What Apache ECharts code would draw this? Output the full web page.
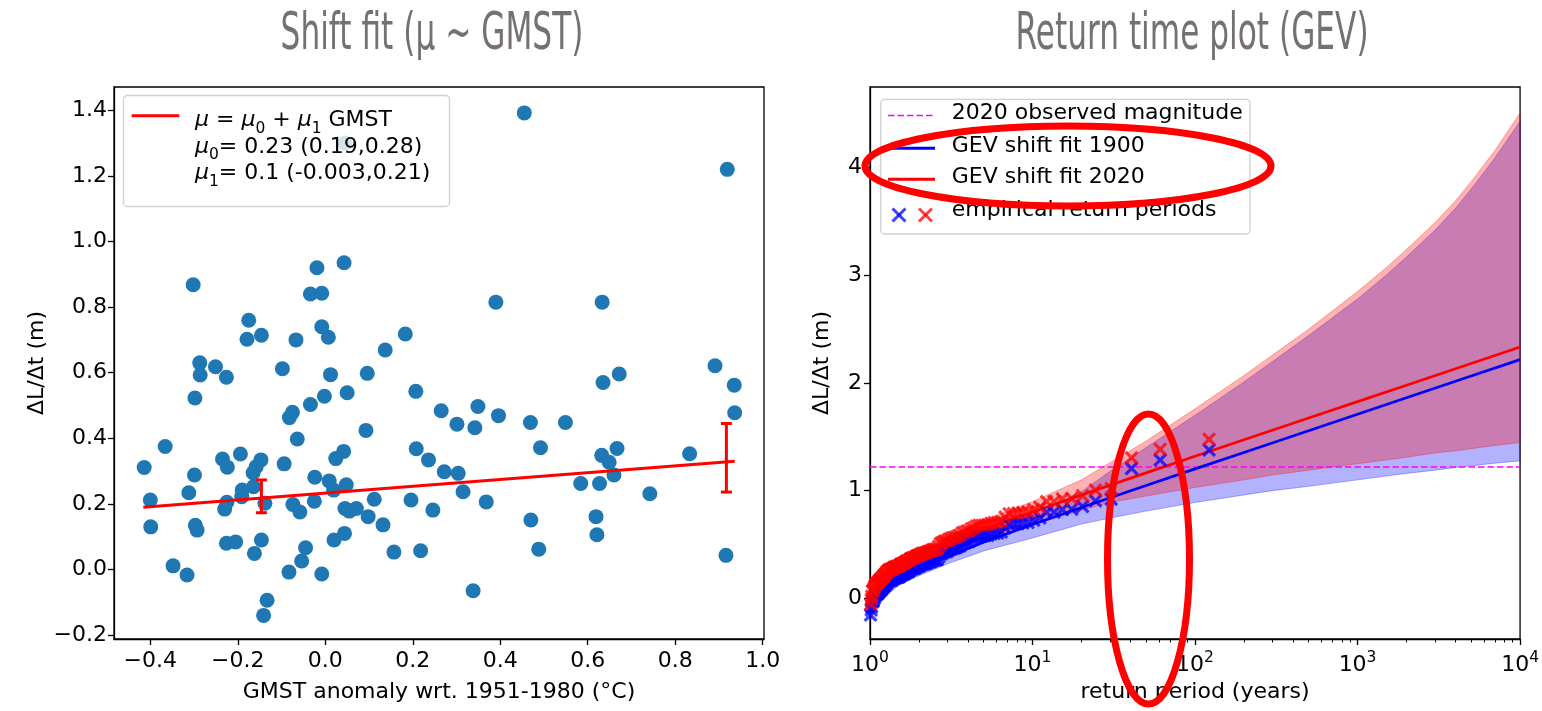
<!DOCTYPE html>
<html>
<head>
<meta charset="utf-8">
<script src="https://cdn.jsdelivr.net/npm/echarts@6/dist/echarts.min.js"></script>
<style>
html, body { margin: 0; padding: 0; background: #fff; }
#chart { width: 1542px; height: 711px; }
</style>
</head>
<body>
<div id="chart"></div>
<script>
// ---------- left panel: yearly ΔL/Δt against GMST anomaly ----------
const gmst = [0.045,-0.302,-0.019,0.043,-0.034,-0.008,-0.175,-0.179,-0.146,-0.067,-0.008,0.007,0.137,0.183,
  -0.287,-0.251,-0.286,-0.226,-0.098,0.012,0.096,-0.298,-0.034,-0.002,0.050,0.207,-0.075,-0.082,0.265,0.301,
  -0.064,0.093,-0.366,-0.414,-0.299,-0.235,-0.224,-0.194,-0.147,-0.158,-0.165,-0.094,0.042,0.024,0.208,0.236,
  0.272,0.304,0.315,-0.312,-0.400,-0.190,-0.191,-0.164,-0.225,-0.230,-0.138,-0.074,-0.058,-0.025,-0.024,0.009,
  0.019,0.048,0.045,0.055,0.071,0.112,0.098,0.132,0.196,0.246,-0.399,-0.297,-0.293,-0.226,-0.205,-0.146,-0.162,
  -0.045,-0.054,0.020,0.044,0.157,0.218,-0.348,-0.316,-0.083,-0.008,-0.133,-0.141,
  0.455,0.919,0.390,0.633,0.891,0.935,0.936,0.635,0.672,0.349,0.342,0.396,0.469,0.549,0.492,0.368,0.470,0.488,
  0.338,0.584,0.627,0.632,0.649,0.667,0.660,0.619,0.621,0.742,0.833,0.916];
const dLdt = [1.30,0.868,0.920,0.935,0.840,0.842,0.760,0.702,0.714,0.700,0.740,0.708,0.669,0.718,
  0.630,0.618,0.593,0.586,0.612,0.594,0.598,0.523,0.503,0.528,0.539,0.543,0.479,0.463,0.484,0.443,
  0.398,0.424,0.375,0.311,0.288,0.337,0.312,0.352,0.334,0.313,0.295,0.322,0.360,0.338,0.368,0.334,
  0.298,0.293,0.237,0.234,0.212,0.242,0.222,0.252,0.205,0.184,0.202,0.198,0.175,0.208,0.281,0.270,
  0.242,0.258,0.186,0.178,0.186,0.214,0.161,0.136,0.212,0.181,0.130,0.135,0.120,0.080,0.084,0.090,0.049,
  0.066,0.026,0.090,0.110,0.053,0.057,0.011,-0.017,-0.008,-0.014,-0.094,-0.140,
  1.392,1.220,0.815,0.815,0.621,0.562,0.478,0.570,0.596,0.497,0.432,0.469,0.448,0.448,0.371,0.206,0.151,0.062,
  -0.065,0.262,0.262,0.348,0.327,0.369,0.288,0.161,0.106,0.231,0.353,0.043];

// fitted location μ = μ0 + μ1·GMST over the observed GMST range
const regX = [-0.416, 0.936];
const regY = [0.19, 0.33];
// confidence intervals of μ at the 1900 and 2020 GMST
const errX = [-0.146, 0.917];
const errLo = [0.173, 0.236];
const errHi = [0.273, 0.445];

const leftXTicks = [-0.4, -0.2, 0, 0.2, 0.4, 0.6, 0.8, 1.0];
const leftYTicks = [-0.2, 0, 0.2, 0.4, 0.6, 0.8, 1.0, 1.2, 1.4];

// ---------- right panel: GEV return levels ----------
const fitT = [1.01, 1.05, 1.1, 1.25, 1.5, 2, 3, 5, 10, 20, 50, 100, 200, 500, 1000, 2000, 5000, 10000];
const fit1900 = [-0.146, -0.055, -0.002, 0.085, 0.169, 0.27, 0.389, 0.52, 0.685, 0.843, 1.048, 1.202, 1.355, 1.557, 1.71, 1.862, 2.064, 2.217];
const fit2020 = [-0.029, 0.062, 0.115, 0.202, 0.286, 0.387, 0.506, 0.637, 0.802, 0.96, 1.165, 1.319, 1.472, 1.674, 1.827, 1.979, 2.181, 2.334];

// confidence bands of the return levels
const bandT   = [1.01, 1.1, 1.5, 2, 3, 5, 10, 20, 30, 50, 100, 200, 300, 500, 1000, 1500, 2000, 3000, 4000, 5000, 7000, 10000];
const low1900 = [-0.20, -0.05, 0.12, 0.21, 0.32, 0.44, 0.56, 0.69, 0.745, 0.81, 0.89, 0.96, 1.00, 1.04, 1.10, 1.135, 1.16, 1.19, 1.215, 1.23, 1.255, 1.276];
const up1900  = [-0.11, 0.04, 0.21, 0.32, 0.44, 0.59, 0.78, 0.99, 1.18, 1.40, 1.70, 2.01, 2.20, 2.44, 2.78, 3.00, 3.17, 3.42, 3.62, 3.80, 4.09, 4.43];
const low2020 = [-0.09, 0.06, 0.23, 0.32, 0.43, 0.55, 0.68, 0.82, 0.89, 0.95, 1.03, 1.10, 1.145, 1.19, 1.25, 1.285, 1.31, 1.35, 1.37, 1.39, 1.42, 1.446];
const up2020  = [0.00, 0.16, 0.33, 0.44, 0.57, 0.72, 0.90, 1.10, 1.26, 1.46, 1.76, 2.07, 2.26, 2.50, 2.85, 3.07, 3.24, 3.49, 3.69, 3.87, 4.16, 4.507];

// empirical return periods of the ranked record
const empT = [122, 61, 40.67, 30.5, 24.4, 20.33, 17.43, 15.25, 13.56, 12.2,
  11.09, 10.17, 9.38, 8.71, 8.13, 7.63, 7.18, 6.78, 6.42, 6.1,
  5.81, 5.55, 5.3, 5.08, 4.88, 4.69, 4.52, 4.36, 4.21, 4.07,
  3.94, 3.81, 3.7, 3.59, 3.49, 3.39, 3.3, 3.21, 3.13, 3.05,
  2.98, 2.9, 2.84, 2.77, 2.71, 2.65, 2.6, 2.54, 2.49, 2.44,
  2.39, 2.35, 2.3, 2.26, 2.22, 2.18, 2.14, 2.1, 2.07, 2.03,
  2, 1.97, 1.94, 1.91, 1.88, 1.85, 1.82, 1.79, 1.77, 1.74,
  1.72, 1.69, 1.67, 1.65, 1.63, 1.61, 1.58, 1.56, 1.54, 1.53,
  1.51, 1.49, 1.47, 1.45, 1.44, 1.42, 1.4, 1.39, 1.37, 1.36,
  1.34, 1.33, 1.31, 1.3, 1.28, 1.27, 1.26, 1.24, 1.23, 1.22,
  1.21, 1.2, 1.18, 1.17, 1.16, 1.15, 1.14, 1.13, 1.12, 1.11,
  1.1, 1.09, 1.08, 1.07, 1.06, 1.05, 1.043, 1.034, 1.025, 1.017,
  1.008];
const emp1900 = [1.377, 1.285, 1.205, 0.920, 0.905, 0.853, 0.827, 0.825, 0.800, 0.800,
  0.745, 0.725, 0.703, 0.699, 0.693, 0.687, 0.685, 0.654, 0.615, 0.606,
  0.603, 0.597, 0.583, 0.581, 0.579, 0.578, 0.571, 0.555, 0.547, 0.528,
  0.524, 0.513, 0.508, 0.488, 0.482, 0.469, 0.464, 0.463, 0.454, 0.448,
  0.433, 0.433, 0.428, 0.417, 0.409, 0.383, 0.360, 0.356, 0.354, 0.353,
  0.345, 0.338, 0.337, 0.333, 0.323, 0.322, 0.319, 0.319, 0.312, 0.307,
  0.298, 0.297, 0.296, 0.283, 0.280, 0.278, 0.273, 0.273, 0.266, 0.255,
  0.247, 0.247, 0.243, 0.237, 0.227, 0.227, 0.222, 0.219, 0.216, 0.207,
  0.199, 0.197, 0.197, 0.193, 0.191, 0.190, 0.187, 0.183, 0.171, 0.171,
  0.169, 0.166, 0.163, 0.160, 0.146, 0.146, 0.136, 0.121, 0.120, 0.115,
  0.105, 0.095, 0.091, 0.075, 0.075, 0.069, 0.065, 0.051, 0.047, 0.042,
  0.038, 0.034, 0.028, 0.011, -0.004, -0.023, -0.029, -0.032, -0.080, -0.109,
  -0.155];
const emp2020 = [1.477, 1.385, 1.305, 1.020, 1.005, 0.953, 0.927, 0.925, 0.900, 0.900,
  0.845, 0.825, 0.803, 0.799, 0.793, 0.787, 0.785, 0.754, 0.715, 0.706,
  0.703, 0.697, 0.683, 0.681, 0.679, 0.678, 0.671, 0.655, 0.647, 0.628,
  0.624, 0.613, 0.608, 0.588, 0.582, 0.569, 0.564, 0.563, 0.554, 0.548,
  0.533, 0.533, 0.528, 0.517, 0.509, 0.483, 0.460, 0.456, 0.454, 0.453,
  0.445, 0.438, 0.437, 0.433, 0.423, 0.422, 0.419, 0.419, 0.412, 0.407,
  0.398, 0.397, 0.396, 0.383, 0.380, 0.378, 0.373, 0.373, 0.366, 0.355,
  0.347, 0.347, 0.343, 0.337, 0.327, 0.327, 0.322, 0.319, 0.316, 0.307,
  0.299, 0.297, 0.297, 0.293, 0.291, 0.290, 0.287, 0.283, 0.271, 0.271,
  0.269, 0.266, 0.263, 0.260, 0.246, 0.246, 0.236, 0.221, 0.220, 0.215,
  0.205, 0.195, 0.191, 0.175, 0.175, 0.169, 0.165, 0.151, 0.147, 0.142,
  0.138, 0.134, 0.128, 0.111, 0.096, 0.077, 0.071, 0.068, 0.020, -0.009,
  -0.055];

// 2020 observed magnitude
const obsT = [1, 10000];
const obsVal = [1.22, 1.22];

const rightXTicks = [1, 10, 100, 1000, 10000];
const rightMinorTicks = [2, 3, 4, 5, 6, 7, 8, 9, 20, 30, 40, 50, 60, 70, 80, 90,
  200, 300, 400, 500, 600, 700, 800, 900, 2000, 3000, 4000, 5000, 6000, 7000, 8000, 9000];
const rightYTicks = [0, 1, 2, 3, 4];

// ---------- drawing ----------
const FONT = 'DejaVu Sans';
const FS = 22;
const zip = (a, b) => a.map((v, i) => [v, b[i]]);
const crossPath = 'path://M0,1.6L1.6,0L5,3.4L8.4,0L10,1.6L6.6,5L10,8.4L8.4,10L5,6.6L1.6,10L0,8.4L3.4,5Z';

const axisLine = { show: true, onZero: false, lineStyle: { color: '#000', width: 1.3 } };
const tickStyle = { color: '#000', width: 1.3 };
const labelBase = { fontFamily: FONT, fontSize: FS, color: '#000' };
const nameStyle = { fontFamily: FONT, fontSize: FS, color: '#000' };

function fmtDec(v) {
  return (v < 0 ? '\u2212' : '') + Math.abs(v).toFixed(1);
}

function bandSeries(lo, hi, color, z) {
  return {
    type: 'custom', xAxisIndex: 1, yAxisIndex: 1, z: z, silent: true,
    data: [[bandT[0], lo[0]]],
    renderItem(params, api) {
      const pts = [];
      for (let i = 0; i < bandT.length; i++) pts.push(api.coord([bandT[i], hi[i]]));
      for (let i = bandT.length - 1; i >= 0; i--) pts.push(api.coord([bandT[i], lo[i]]));
      return { type: 'polygon', shape: { points: pts }, style: { fill: color, stroke: color, lineWidth: 1 } };
    }
  };
}

const chart = echarts.init(document.getElementById('chart'), null, { renderer: 'canvas' });

// legend text: n = upright, i = italic μ, s = subscript
const legendRich = {
  n: { fontFamily: FONT, fontSize: FS, fill: '#000', verticalAlign: 'bottom', padding: [0, 0, 5, 0] },
  i: { fontFamily: FONT, fontSize: FS, fontStyle: 'italic', fill: '#000', verticalAlign: 'bottom', padding: [0, 0, 5, 0] },
  s: { fontFamily: FONT, fontSize: 15.5, fill: '#000', verticalAlign: 'bottom' }
};
const legendText = (x, y, text) => ({
  type: 'text', x: x, y: y, z: 101,
  style: { text: text, fontFamily: FONT, fontSize: FS, fill: '#000', verticalAlign: 'middle', align: 'left', rich: legendRich }
});

const crossLines = (cx, cy, color) => {
  const h = 6.5;
  const st = { stroke: color, lineWidth: 3 };
  return [
    { type: 'line', z: 101, shape: { x1: cx - h, y1: cy - h, x2: cx + h, y2: cy + h }, style: st },
    { type: 'line', z: 101, shape: { x1: cx - h, y1: cy + h, x2: cx + h, y2: cy - h }, style: st }
  ];
};

const option = {
  backgroundColor: '#fff',
  animation: false,
  grid: [
    { left: 114, top: 87, width: 650, height: 552, show: true, borderColor: '#000', borderWidth: 1.3, backgroundColor: 'transparent' },
    { left: 870, top: 87, width: 651, height: 552, show: true, borderColor: '#000', borderWidth: 1.3, backgroundColor: 'transparent' }
  ],
  xAxis: [
    {
      gridIndex: 0, type: 'value', min: -0.483, max: 1.003,
      axisLine: axisLine,
      axisTick: { show: true, length: 6, lineStyle: tickStyle, customValues: leftXTicks },
      axisLabel: Object.assign({ margin: 11, customValues: leftXTicks, formatter: fmtDec }, labelBase),
      splitLine: { show: false },
      name: 'GMST anomaly wrt. 1951-1980 (°C)', nameLocation: 'middle', nameGap: 42, nameTextStyle: nameStyle
    },
    {
      gridIndex: 1, type: 'log', logBase: 10, min: 1, max: 10000,
      axisLine: axisLine,
      axisTick: { show: true, length: 6, lineStyle: tickStyle, customValues: rightXTicks },
      axisLabel: Object.assign({
        margin: 11, customValues: rightXTicks,
        formatter: v => '{b|10}{s|' + Math.round(Math.log10(v)) + '}',
        rich: {
          b: { fontFamily: FONT, fontSize: FS, color: '#000', verticalAlign: 'bottom' },
          s: { fontFamily: FONT, fontSize: 15.5, color: '#000', verticalAlign: 'bottom', padding: [0, 0, 10, 0] }
        }
      }, labelBase),
      splitLine: { show: false },
      minorTick: { show: false },
      name: 'return period (years)', nameLocation: 'middle', nameGap: 42, nameTextStyle: nameStyle
    },
    {
      gridIndex: 1, type: 'log', logBase: 10, min: 1, max: 10000, position: 'bottom',
      axisLine: { show: false, onZero: false },
      axisTick: { show: true, length: 3.5, lineStyle: { color: '#000', width: 1 }, customValues: rightMinorTicks },
      axisLabel: { show: false },
      splitLine: { show: false }
    }
  ],
  yAxis: [
    {
      gridIndex: 0, type: 'value', min: -0.212, max: 1.471,
      axisLine: axisLine,
      axisTick: { show: true, length: 6, lineStyle: tickStyle, customValues: leftYTicks },
      axisLabel: Object.assign({ margin: 7, customValues: leftYTicks, formatter: fmtDec }, labelBase),
      splitLine: { show: false },
      name: 'ΔL/Δt (m)', nameLocation: 'middle', nameGap: 66, nameRotate: 90, nameTextStyle: nameStyle
    },
    {
      gridIndex: 1, type: 'value', min: -0.378, max: 4.749,
      axisLine: axisLine,
      axisTick: { show: true, length: 6, lineStyle: tickStyle, customValues: rightYTicks },
      axisLabel: Object.assign({ margin: 8, customValues: rightYTicks, formatter: v => String(v) }, labelBase),
      splitLine: { show: false },
      name: 'ΔL/Δt (m)', nameLocation: 'middle', nameGap: 37, nameRotate: 90, nameTextStyle: nameStyle
    }
  ],
  series: [
    // left panel
    {
      type: 'scatter', xAxisIndex: 0, yAxisIndex: 0, z: 2,
      data: zip(gmst, dLdt), symbol: 'circle', symbolSize: 15,
      itemStyle: { color: '#1f77b4', opacity: 1 }
    },
    {
      type: 'line', xAxisIndex: 0, yAxisIndex: 0, z: 3,
      data: zip(regX, regY), symbol: 'none',
      lineStyle: { color: '#ff0000', width: 3 }
    },
    {
      type: 'custom', xAxisIndex: 0, yAxisIndex: 0, z: 4,
      data: errX.map((x, i) => [x, errLo[i], errHi[i]]),
      encode: { x: 0, y: [1, 2] },
      renderItem(params, api) {
        const x = api.value(0);
        const lo = api.coord([x, api.value(1)]);
        const hi = api.coord([x, api.value(2)]);
        const cap = 5.5;
        const st = { stroke: '#ff0000', lineWidth: 3 };
        return {
          type: 'group', children: [
            { type: 'line', shape: { x1: lo[0], y1: lo[1], x2: hi[0], y2: hi[1] }, style: st },
            { type: 'line', shape: { x1: lo[0] - cap, y1: lo[1], x2: lo[0] + cap, y2: lo[1] }, style: st },
            { type: 'line', shape: { x1: hi[0] - cap, y1: hi[1], x2: hi[0] + cap, y2: hi[1] }, style: st }
          ]
        };
      }
    },
    // right panel: confidence bands
    bandSeries(low1900, up1900, 'rgba(0,0,255,0.3)', 1),
    bandSeries(low2020, up2020, 'rgba(255,0,0,0.3)', 1),
    {
      type: 'line', xAxisIndex: 1, yAxisIndex: 1, z: 2,
      data: zip(obsT, obsVal), symbol: 'none',
      lineStyle: { color: '#ff00ff', width: 1.5, type: [6.5, 3] }
    },
    {
      type: 'line', xAxisIndex: 1, yAxisIndex: 1, z: 3,
      data: zip(fitT, fit1900), symbol: 'none',
      lineStyle: { color: '#0000ff', width: 2.7 }
    },
    {
      type: 'line', xAxisIndex: 1, yAxisIndex: 1, z: 3,
      data: zip(fitT, fit2020), symbol: 'none',
      lineStyle: { color: '#ff0000', width: 2.7 }
    },
    {
      type: 'scatter', xAxisIndex: 1, yAxisIndex: 1, z: 4,
      data: zip(empT, emp1900), symbol: crossPath, symbolSize: 14,
      itemStyle: { color: '#0000ff', opacity: 0.75 }
    },
    {
      type: 'scatter', xAxisIndex: 1, yAxisIndex: 1, z: 5,
      data: zip(empT, emp2020), symbol: crossPath, symbolSize: 14,
      itemStyle: { color: '#ff0000', opacity: 0.75 }
    }
  ],
  graphic: [
    // panel titles
    { type: 'text', x: 432, y: 35, scaleX: 0.6, z: 100,
      style: { text: 'Shift fit (μ ~ GMST)', fontFamily: FONT, fontSize: 52, fill: '#767171', align: 'center', verticalAlign: 'middle' } },
    { type: 'text', x: 1192, y: 35, scaleX: 0.6, z: 100,
      style: { text: 'Return time plot (GEV)', fontFamily: FONT, fontSize: 52, fill: '#767171', align: 'center', verticalAlign: 'middle' } },

    // left legend
    { type: 'rect', z: 100, shape: { x: 123.5, y: 95.5, width: 326, height: 111, r: 4 },
      style: { fill: 'rgba(255,255,255,0.8)', stroke: '#d0d0d0', lineWidth: 1.3 } },
    { type: 'line', z: 101, shape: { x1: 131.7, y1: 115.7, x2: 179.3, y2: 115.7 }, style: { stroke: '#ff0000', lineWidth: 3 } },
    legendText(195, 123, '{i|μ}{n| = }{i|μ}{s|0}{n| + }{i|μ}{s|1}{n| GMST}'),
    legendText(195, 149.5, '{i|μ}{s|0}{n|= 0.23 (0.19,0.28)}'),
    legendText(195, 176, '{i|μ}{s|1}{n|= 0.1 (-0.003,0.21)}'),

    // right legend
    { type: 'rect', z: 100, shape: { x: 880.7, y: 99.3, width: 369.3, height: 134.7, r: 4 },
      style: { fill: 'rgba(255,255,255,0.8)', stroke: '#d0d0d0', lineWidth: 1.3 } },
    { type: 'line', z: 101, shape: { x1: 888, y1: 115.5, x2: 935, y2: 115.5 }, style: { stroke: '#ff00ff', lineWidth: 1.5, lineDash: [6.5, 3] } },
    { type: 'line', z: 101, shape: { x1: 888, y1: 148.3, x2: 935, y2: 148.3 }, style: { stroke: '#0000ff', lineWidth: 3 } },
    { type: 'line', z: 101, shape: { x1: 888, y1: 179.3, x2: 935, y2: 179.3 }, style: { stroke: '#ff0000', lineWidth: 3 } },
    ...crossLines(899, 215, 'rgba(0,0,255,0.75)'),
    ...crossLines(925.5, 215, 'rgba(255,0,0,0.75)'),
    legendText(951.7, 116, '{n|2020 observed magnitude}'),
    legendText(951.7, 148.5, '{n|GEV shift fit 1900}'),
    legendText(951.7, 180, '{n|GEV shift fit 2020}'),
    legendText(951.7, 213, '{n|empirical return periods}'),

    // hand-drawn highlight rings
    { type: 'ellipse', z: 120, shape: { cx: 1068, cy: 166, rx: 203, ry: 40 },
      style: { fill: 'none', stroke: '#ff0000', lineWidth: 7 } },
    { type: 'ellipse', z: 120, shape: { cx: 1148.5, cy: 559, rx: 41, ry: 145 },
      style: { fill: 'none', stroke: '#ff0000', lineWidth: 7 } }
  ]
};

chart.setOption(option);
</script>
</body>
</html>
